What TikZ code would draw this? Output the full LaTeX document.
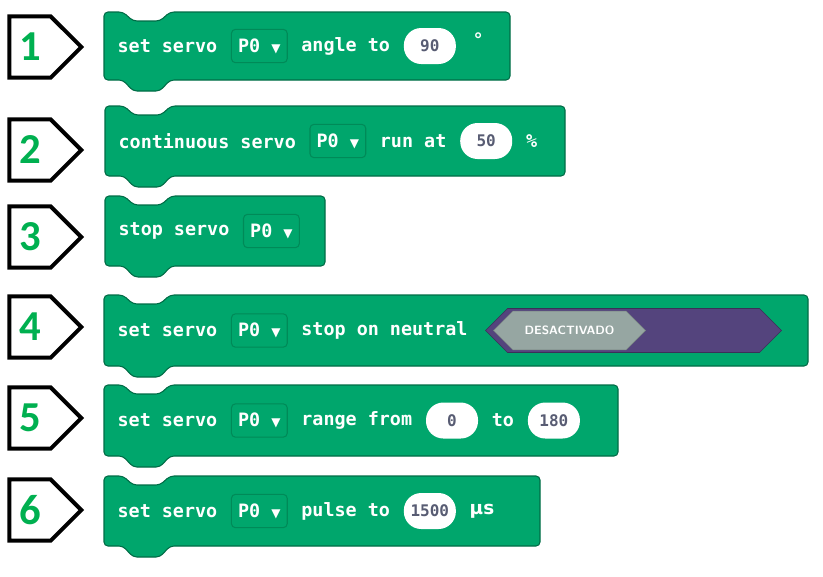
\documentclass[tikz,border=0pt]{standalone}
\usepackage{fontspec}
\setmonofont{DejaVu Sans Mono}
\newfontfamily\numfont{Carlito}
\newfontfamily\symfont{DejaVu Sans}
\usetikzlibrary{positioning,shapes.symbols}
\definecolor{servo}{RGB}{0,166,108}
\definecolor{servodark}{RGB}{0,138,88}
\definecolor{numgreen}{RGB}{0,176,80}
\definecolor{valtext}{RGB}{88,92,115}
\definecolor{hexpurple}{RGB}{84,68,125}
\definecolor{hexgray}{RGB}{150,166,162}
\tikzset{
	numbox/.style={signal, signal to=east, draw=black, line width=3pt, fill=white, minimum width=54pt, minimum height=46pt, text=numgreen, font=\numfont\bfseries\fontsize{32}{32}\selectfont},
	blockline/.style={fill=servo, draw=black!35!servo, line width=0.8pt, rounded corners=3pt},
	word/.style={text=white, font=\ttfamily\bfseries\fontsize{13.8}{15}\selectfont, inner sep=1pt},
	pinbox/.style={draw=servodark, fill=servo, rounded corners=3pt, line width=0.8pt, minimum height=25pt, inner xsep=5pt, text=white, font=\ttfamily\bfseries\fontsize{13.8}{15}\selectfont},
	valbox/.style={fill=white, rounded corners=13pt, minimum height=27pt, minimum width=39pt, text=valtext, font=\ttfamily\bfseries\fontsize{12}{14}\selectfont},
	hexout/.style={signal, signal to=west and east, fill=hexpurple, draw=black!30!hexpurple, minimum height=33pt, inner sep=0pt},
	hexin/.style={signal, signal to=west and east, fill=hexgray, draw=black!20!hexgray, minimum height=29pt, text=white, font=\sffamily\bfseries\fontsize{9}{10}\selectfont}
}
% name, left, top, right, bottom
\newcommand\servoblock[5]{
	\draw[blockline] (#2,#3) -- ({#2+19},#3) -- ({#2+29},{#3+9}) -- ({#2+56},{#3+9}) -- ({#2+66},#3) -- (#4,#3) -- (#4,#5) -- ({#2+66},#5) -- ({#2+56},{#5+11}) -- ({#2+29},{#5+11}) -- ({#2+19},#5) -- (#2,#5) -- cycle;
	\coordinate (#1) at ({#2+12},{(#3+#5)/2});
}
\newcommand\pin{P0 {\symfont\fontsize{9}{9}\selectfont▼}}
\begin{document}
\begin{tikzpicture}[x=0.75pt,y=-0.75pt, node distance=9pt]
		\fill[white] (0,0) rectangle (823,576);
		
		%labels
		\node[numbox] (n1) at (30,47) {1};
		\node[numbox] (n2) at (30,150) {2};
		\node[numbox] (n3) at (30,237) {3};
		\node[numbox] (n4) at (30,327) {4};
		\node[numbox] (n5) at (30,418) {5};
		\node[numbox] (n6) at (30,510) {6};
		
		%blocks
		\servoblock{b1}{104}{12}{510}{80}
		\servoblock{b2}{105}{106}{565}{176}
		\servoblock{b3}{105}{196}{325}{266}
		\servoblock{b4}{104}{295}{808}{366}
		\servoblock{b5}{104}{385}{618}{456}
		\servoblock{b6}{104}{476}{540}{546}
		
		\node[word, anchor=west] (s1) at (b1) {set servo};
		\node[pinbox, right=of s1] (p1) {\pin};
		\node[word, right=of p1] (a1) {angle to};
		\node[valbox, right=of a1] (v1) {90};
		\node[word, right=12pt of v1, yshift=5pt] (d1) {\symfont °};
		
		\node[word, anchor=west] (s2) at (b2) {continuous servo};
		\node[pinbox, right=of s2] (p2) {\pin};
		\node[word, right=of p2] (a2) {run at};
		\node[valbox, right=of a2] (v2) {50};
		\node[word, right=of v2] (d2) {\%};
		
		\node[word, anchor=west] (s3) at (b3) {stop servo};
		\node[pinbox, right=of s3] (p3) {\pin};
		
		\node[word, anchor=west] (s4) at (b4) {set servo};
		\node[pinbox, right=of s4] (p4) {\pin};
		\node[word, right=of p4] (a4) {stop on neutral};
		\node[hexout, minimum width=222pt, anchor=west, right=12pt of a4] (h4) {};
		\node[hexin, minimum width=114pt, anchor=west] (g4) at ([xshift=6pt]h4.west) {DESACTIVADO};
		
		\node[word, anchor=west] (s5) at (b5) {set servo};
		\node[pinbox, right=of s5] (p5) {\pin};
		\node[word, right=of p5] (a5) {range from};
		\node[valbox, right=of a5] (v5) {0};
		\node[word, right=of v5] (t5) {to};
		\node[valbox, right=of t5] (w5) {180};
		
		\node[word, anchor=west] (s6) at (b6) {set servo};
		\node[pinbox, right=of s6] (p6) {\pin};
		\node[word, right=of p6] (a6) {pulse to};
		\node[valbox, right=of a6] (v6) {1500};
		\node[word, right=of v6] (d6) {\symfont µs};
		
	\end{tikzpicture}
\end{document}
